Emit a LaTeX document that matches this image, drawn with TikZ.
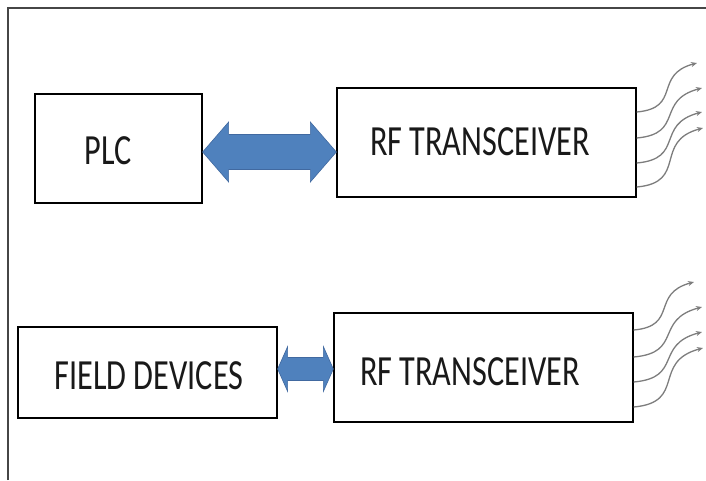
\documentclass[tikz,border=0pt]{standalone}
\usepackage{fontspec}
\setmainfont{Carlito}[FakeStretch=0.75]
\usepackage{tikz}
\usetikzlibrary{positioning,calc,arrows.meta}
\definecolor{arrowblue}{RGB}{79,129,189}
\definecolor{arrowedge}{RGB}{65,105,160}
\definecolor{wavegray}{RGB}{125,125,125}
\definecolor{framegray}{RGB}{70,70,70}
\tikzset{box/.style = {draw=black, line width=1.3pt, inner sep=0pt},
         lbl/.style = {font=\fontsize{43}{50}\selectfont, text=black!90, inner sep=0pt},
         arrowshape/.style = {fill=arrowblue, draw=arrowedge, line width=0.6pt, line join=miter},
         wave/.style = {draw=wavegray, line width=1.3pt, -{Stealth[length=6pt,width=5pt]}}}

\begin{document}
\begin{tikzpicture}[x=1pt,y=-1pt]
        \useasboundingbox (0,0) rectangle (706,480);
        \draw[framegray, line width=2pt] (8,480) -- (8,8) -- (706,8);

        \node [box, minimum width=167pt, minimum height=109pt] (plc) at (118.5,148.5) {};
        \node [box, minimum width=299pt, minimum height=109pt] (rf1) at (486.5,142.5) {};
        \node [box, minimum width=259pt, minimum height=91pt] (field) at (147.5,372.5) {};
        \node [box, minimum width=299pt, minimum height=109pt] (rf2) at (483.5,367.5) {};

        \node [lbl] (plctext) at (108,151) {PLC};
        \node [lbl] (rf1text) at (480,141.5) {RF TRANSCEIVER};
        \node [lbl] (fieldtext) at (149,376) {FIELD DEVICES};
        \node [lbl] (rf2text) at (470,371.5) {RF TRANSCEIVER};

        % block arrows between the boxes
        \coordinate (rowa) at (0,152);
        \coordinate (rowb) at (0,369);
        \filldraw [arrowshape] let \p1 = (plc.east |- rowa), \p2 = (rf1.west |- rowa) in
            (\x1,\y1) -- (\x1+26pt,\y1+30pt) -- (\x1+26pt,\y1+17.5pt) -- (\x2-26pt,\y1+17.5pt)
            -- (\x2-26pt,\y1+30pt) -- (\x2,\y2) -- (\x2-26pt,\y1-30pt) -- (\x2-26pt,\y1-17.5pt)
            -- (\x1+26pt,\y1-17.5pt) -- (\x1+26pt,\y1-30pt) -- cycle;
        \filldraw [arrowshape] let \p1 = (field.east |- rowb), \p2 = (rf2.west |- rowb) in
            (\x1,\y1) -- (\x1+10pt,\y1+22.5pt) -- (\x1+10pt,\y1+11.5pt) -- (\x2-10pt,\y1+11.5pt)
            -- (\x2-10pt,\y1+22.5pt) -- (\x2,\y2) -- (\x2-10pt,\y1-22.5pt) -- (\x2-10pt,\y1-11.5pt)
            -- (\x1+10pt,\y1-11.5pt) -- (\x1+10pt,\y1-22.5pt) -- cycle;

        % radio waves
        \foreach \i/\dy/\ex/\ey in {1/-30.5/697/63, 2/-4.5/702/88, 3/20.5/702/112, 4/44.5/703/128} {
            \coordinate (wa\i) at (\ex,\ey);
            \draw [wave] ($(rf1.east)+(0,\dy)$) to[out=5,in=195,looseness=1.5] (wa\i);
        }
        \foreach \i/\dy/\ex/\ey in {1/-37.5/694/282, 2/-10.5/702/307, 3/14.5/702/332, 4/39.5/703/348} {
            \coordinate (wb\i) at (\ex,\ey);
            \draw [wave] ($(rf2.east)+(0,\dy)$) to[out=5,in=195,looseness=1.5] (wb\i);
        }
    \end{tikzpicture}
\end{document}
